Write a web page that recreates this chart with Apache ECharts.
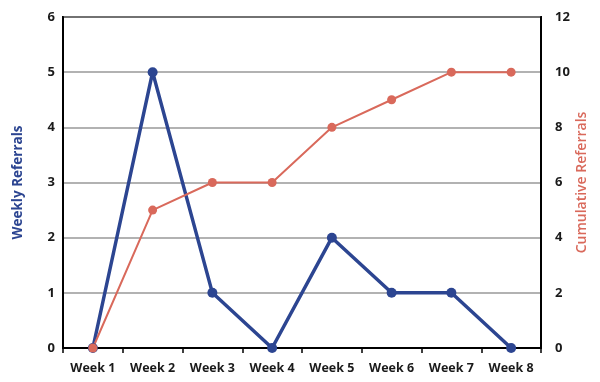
<!DOCTYPE html>
<html><head><meta charset="utf-8">
<script src="https://cdn.jsdelivr.net/npm/echarts@6/dist/echarts.min.js"></script>
<style>html,body{margin:0;padding:0;background:#fff}#c{width:600px;height:382px}</style>
</head><body><div id="c"></div>
<script>
const categories = ['Week 1','Week 2','Week 3','Week 4','Week 5','Week 6','Week 7','Week 8'];
const weekly = [0, 5, 1, 0, 2, 1, 1, 0];
const cumulative = [0, 5, 6, 6, 8, 9, 10, 10];
const leftTicks = [0, 1, 2, 3, 4, 5, 6];
const rightTicks = [0, 2, 4, 6, 8, 10, 12];
const BLUE = '#2c4591', RED = '#d9695b';
const font = '"Open Sans", sans-serif';
const chart = echarts.init(document.getElementById('c'));
chart.setOption({
  animation: false,
  grid: {left: 63, right: 59, top: 17, bottom: 34, containLabel: false, outerBoundsMode: 'none',
         show: true, borderColor: '#000', borderWidth: 2, backgroundColor: 'transparent'},
  xAxis: {
    type: 'category', data: categories, boundaryGap: true,
    axisLine: {lineStyle: {color: '#000', width: 2}},
    axisTick: {show: true, length: 5, lineStyle: {color: '#000', width: 1.5}},
    axisLabel: {color: '#1a1a1a', fontFamily: font, fontWeight: 700, fontSize: 12.5, margin: 14}
  },
  yAxis: [{
    type: 'value', min: leftTicks[0], max: leftTicks[leftTicks.length-1], interval: 1,
    name: 'Weekly Referrals', nameLocation: 'middle', nameGap: 38, nameRotate: 90, nameMoveOverlap: false,
    nameTextStyle: {color: BLUE, fontFamily: font, fontWeight: 700, fontSize: 13.5},
    axisLine: {show: true, lineStyle: {color: '#000', width: 2}},
    axisTick: {show: false},
    axisLabel: {color: '#1a1a1a', fontFamily: font, fontWeight: 700, fontSize: 13, margin: 8},
    splitLine: {show: true, lineStyle: {color: '#999', width: 1.5}}
  }, {
    type: 'value', min: rightTicks[0], max: rightTicks[rightTicks.length-1], interval: 2,
    name: 'Cumulative Referrals', nameLocation: 'middle', nameGap: 34, nameRotate: 90, nameMoveOverlap: false,
    nameTextStyle: {color: RED, fontFamily: font, fontWeight: 600, fontSize: 14},
    axisLine: {show: true, lineStyle: {color: '#000', width: 2}},
    axisTick: {show: false},
    axisLabel: {color: '#1a1a1a', fontFamily: font, fontWeight: 700, fontSize: 13, margin: 14},
    splitLine: {show: false}
  }],
  series: [{
    type: 'line', data: weekly, yAxisIndex: 0,
    symbol: 'circle', symbolSize: 10,
    lineStyle: {color: BLUE, width: 3.5}, itemStyle: {color: BLUE}
  }, {
    type: 'line', data: cumulative, yAxisIndex: 1,
    symbol: 'circle', symbolSize: 9,
    lineStyle: {color: RED, width: 2}, itemStyle: {color: RED}
  }]
});
</script></body></html>
